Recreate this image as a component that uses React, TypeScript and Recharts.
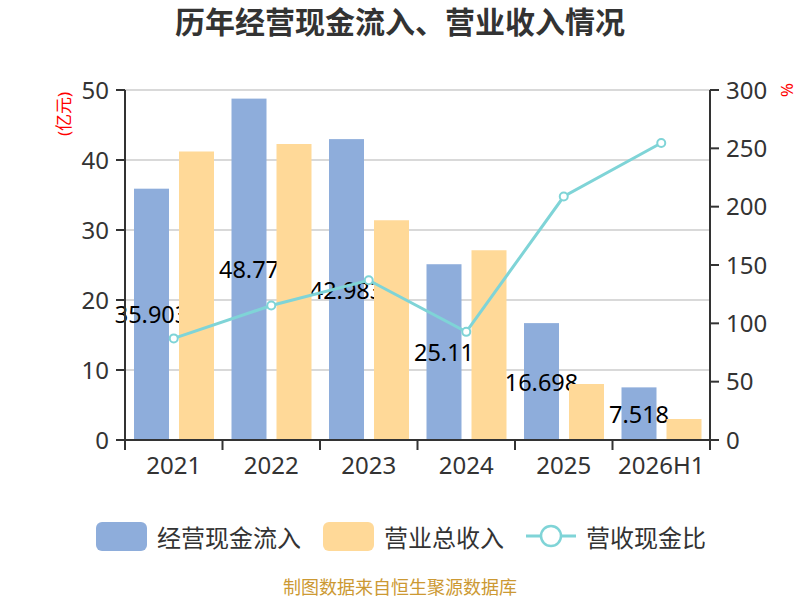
import React from 'react';
import {
  ComposedChart,
  Bar,
  Line,
  XAxis,
  YAxis,
  CartesianGrid,
  Legend
} from 'recharts';

const years = ['2021', '2022', '2023', '2024', '2025', '2026H1'];
const cashInflow = [35.903, 48.77, 42.983, 25.11, 16.698, 7.518];
const revenue = [41.2, 42.3, 31.4, 27.1, 8.0, 3.0];
const cashRatio = [87.1, 115.3, 136.9, 92.7, 208.7, 254.6];

const leftTicks = [0, 10, 20, 30, 40, 50];
const rightTicks = [0, 50, 100, 150, 200, 250, 300];

const BLUE = '#8EADDB';
const ORANGE = '#FFD998';
const TEAL = '#7FD4D7';
const FONT = '"Noto Sans", "Noto Sans CJK SC", sans-serif';

const data = years.map((year, i) => ({
  year,
  cash: cashInflow[i],
  revenue: revenue[i],
  ratio: cashRatio[i]
}));

const BAND = 585 / years.length;

const XTick = (props: any) => {
  const { x, y, payload, index } = props;
  return (
    <g>
      <line x1={x - BAND / 2} x2={x - BAND / 2} y1={y} y2={y + 10} stroke="#333" strokeWidth={2} />
      {index === years.length - 1 && (
        <line x1={x + BAND / 2} x2={x + BAND / 2} y1={y} y2={y + 10} stroke="#333" strokeWidth={2} />
      )}
      <text x={x} y={y + 34} textAnchor="middle" fill="#333" fontSize={24} fontFamily={FONT}>
        {payload.value}
      </text>
    </g>
  );
};

// bar + its value label in one layer, so the next bar and the line paint over the label
const CashBar = (props: any) => {
  const { x, y, width, height, fill, payload } = props;
  return (
    <g>
      <rect x={x} y={y} width={width} height={height} fill={fill} />
      <text
        x={x + width / 2}
        y={y + height / 2}
        textAnchor="middle"
        dominantBaseline="central"
        fill="#000"
        fontSize={23.5}
        fontFamily={FONT}
      >
        {payload.cash}
      </text>
    </g>
  );
};

const LegendContent = () => {
  const item = { display: 'flex', alignItems: 'center', marginRight: 22 } as React.CSSProperties;
  const label = { fontSize: 24, color: '#333', marginLeft: 10 } as React.CSSProperties;
  return (
    <div style={{ display: 'flex', justifyContent: 'center', fontFamily: FONT, height: 30, paddingLeft: 24 }}>
      <div style={item}>
        <div style={{ width: 51, height: 29, background: BLUE, borderRadius: 6 }} />
        <span style={label}>经营现金流入</span>
      </div>
      <div style={item}>
        <div style={{ width: 51, height: 29, background: ORANGE, borderRadius: 6 }} />
        <span style={label}>营业总收入</span>
      </div>
      <div style={item}>
        <svg width={50} height={30}>
          <line x1={0} x2={50} y1={15} y2={15} stroke={TEAL} strokeWidth={3} />
          <circle cx={25} cy={15} r={10} fill="#fff" stroke={TEAL} strokeWidth={2.5} />
        </svg>
        <span style={label}>营收现金比</span>
      </div>
    </div>
  );
};

export default function App() {
  return (
    <div style={{ position: 'absolute', left: 0, top: 0, width: 800, height: 600, fontFamily: FONT, background: '#fff', overflow: 'hidden' }}>
      <div style={{ position: 'absolute', top: 2, width: 800, textAlign: 'center', fontSize: 30, lineHeight: '40px', fontWeight: 'bold', color: '#333' }}>
        历年经营现金流入、营业收入情况
      </div>
      <ComposedChart
        width={800}
        height={600}
        data={data}
        margin={{ top: 90, right: 20, left: 65, bottom: 90 }}
        barCategoryGap={9}
        barGap={10}
      >
        <CartesianGrid yAxisId="left" vertical={false} stroke="#ccc" strokeWidth={1.5} />
        <XAxis
          dataKey="year"
          height={40}
          interval={0}
          tickLine={false}
          tickSize={0}
          tickMargin={0}
          stroke="#333"
          strokeWidth={2}
          tick={<XTick />}
        />
        <YAxis
          yAxisId="left"
          width={60}
          domain={[0, 50]}
          ticks={leftTicks}
          stroke="#333"
          strokeWidth={2}
          tickSize={9}
          tickMargin={7}
          tick={{ fill: '#333', fontSize: 24, fontFamily: FONT }}
        />
        <YAxis
          yAxisId="right"
          orientation="right"
          width={70}
          domain={[0, 300]}
          ticks={rightTicks}
          stroke="#333"
          strokeWidth={2}
          tickSize={9}
          tickMargin={7}
          tick={{ fill: '#333', fontSize: 24, fontFamily: FONT }}
        />
        <Legend
          verticalAlign="bottom"
          content={<LegendContent />}
          wrapperStyle={{ top: 521, left: 0, width: 800 }}
        />
        <Bar yAxisId="left" dataKey="cash" name="经营现金流入" fill={BLUE} isAnimationActive={false} shape={<CashBar />} zIndex={300} />
        <Bar yAxisId="left" dataKey="revenue" name="营业总收入" fill={ORANGE} isAnimationActive={false} zIndex={350} />
        <Line
          yAxisId="right"
          dataKey="ratio"
          name="营收现金比"
          stroke={TEAL}
          strokeWidth={3}
          dot={{ r: 4, fill: '#fff', stroke: TEAL, strokeWidth: 2 }}
          isAnimationActive={false}
          zIndex={400}
        />
      </ComposedChart>
      <div style={{ position: 'absolute', left: 36, top: 104, width: 56, textAlign: 'center', color: 'red', fontSize: 17, lineHeight: '20px', transform: 'rotate(-90deg)' }}>
        (亿元)
      </div>
      <div style={{ position: 'absolute', left: 780, top: 80, color: 'red', fontSize: 17, lineHeight: '20px', transform: 'rotate(90deg)' }}>
        %
      </div>
      <div style={{ position: 'absolute', top: 577, width: 800, textAlign: 'center', fontSize: 18, lineHeight: '20px', color: '#CC9933' }}>
        制图数据来自恒生聚源数据库
      </div>
    </div>
  );
}
